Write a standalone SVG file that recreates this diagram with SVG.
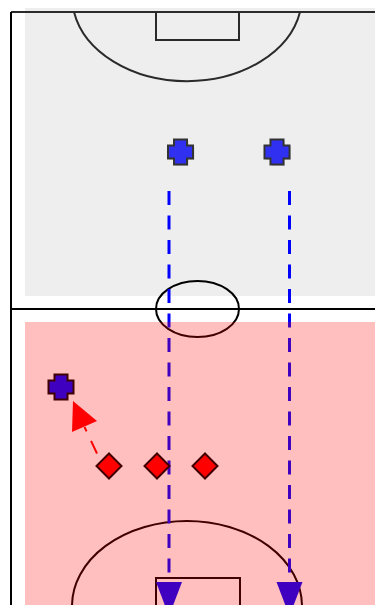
<svg xmlns="http://www.w3.org/2000/svg" width="375" height="605" viewBox="0 0 375 605">
<defs>
<style>
.fl{fill:none;stroke:#000;stroke-width:2}
.fltop{fill:none;stroke:#2a2a2a;stroke-width:2}
.run{fill:none;stroke:#0000ff;stroke-width:3;stroke-dasharray:14 10.5}
.head{fill:#0000ff}
.crossA{fill:#3030f0;stroke:#333;stroke-width:2}
.crossB{fill:#0000ff;stroke:#000;stroke-width:2}
.shadow{fill:#000;opacity:0.12}
.dia{fill:#ff0000;stroke:#000;stroke-width:2}
.pass{fill:none;stroke:#ff0000;stroke-width:2;stroke-dasharray:14 10.5}
</style>
<path id="cross" d="M-6.5,-12.5 H6.5 V-6.5 H12.5 V6.5 H6.5 V12.5 H-6.5 V6.5 H-12.5 V-6.5 H-6.5 Z"/>
<path id="diamond" d="M0,-12.5 L12.5,0 L0,12.5 L-12.5,0 Z"/>
</defs>
<rect x="0" y="0" width="375" height="605" fill="#ffffff"/>
<rect x="25" y="8" width="350" height="288" fill="#eeeeee"/>
<g id="field">
<path class="fltop" d="M11,12 H375"/>
<path class="fltop" d="M74,12 A115 85 0 0 0 300,12"/>
<path class="fltop" d="M156,12 V40 H239 V12"/>
<path class="fl" d="M11,12 V605"/>
<path class="fl" d="M11,309 H375"/>
<ellipse class="fl" cx="197.5" cy="309" rx="41.5" ry="28"/>
<path class="fl" d="M72,606 A115 85 0 0 1 302,606"/>
<path class="fl" d="M156,607 V578 H240 V607"/>
</g>
<g id="connectors">
<path class="run" d="M169,191 V582"/>
<polygon class="head" points="156,582 182,582 169,616"/>
<path class="run" d="M289.5,191 V582"/>
<polygon class="head" points="276.5,582 302.5,582 289.5,616"/>
<path class="pass" d="M97,453.5 L84.5,427"/>
<polygon fill="#ff0000" points="73,401 97,421 72,432"/>
</g>
<g id="attacker1" transform="translate(180.5,152)">
<use href="#cross" class="shadow" x="1.5" y="1.5"/>
<use href="#cross" class="crossA"/>
</g>
<g id="attacker2" transform="translate(277,152)">
<use href="#cross" class="shadow" x="1.5" y="1.5"/>
<use href="#cross" class="crossA"/>
</g>
<g id="player3" transform="translate(61,387)">
<use href="#cross" class="crossB"/>
</g>
<g id="defender1" transform="translate(109,466)">
<use href="#diamond" class="dia"/>
</g>
<g id="defender2" transform="translate(157,466)">
<use href="#diamond" class="dia"/>
</g>
<g id="defender3" transform="translate(205,466)">
<use href="#diamond" class="dia"/>
</g>
<rect x="25" y="322" width="350" height="283" fill="#ff0000" fill-opacity="0.25"/>
</svg>
